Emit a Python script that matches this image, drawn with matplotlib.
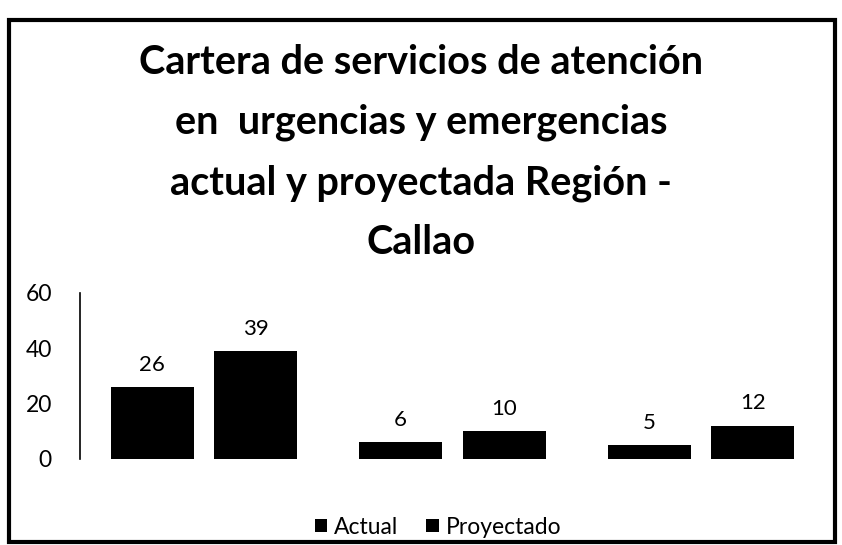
import matplotlib
matplotlib.use('Agg')
import matplotlib.pyplot as plt
import numpy as np
from matplotlib.patches import Rectangle

plt.rcParams['font.family'] = ['Lato', 'DejaVu Sans']

# Data
groups = ['Grupo 1', 'Grupo 2', 'Grupo 3']
actual = [26, 6, 5]
proyectado = [39, 10, 12]
y_ticks = [0, 20, 40, 60]
title = ('Cartera de servicios de atención\n'
         'en  urgencias y emergencias\n'
         'actual y proyectada Región -\n'
         'Callao')

fig = plt.figure(figsize=(8.42, 5.45), dpi=100)
ax = fig.add_axes([0.0947, 0.1578, 0.8854, 0.3046])

x = np.arange(len(groups))
w = 0.334
off = 0.209
b1 = ax.bar(x - off, actual, w, color='black', label='Actual')
b2 = ax.bar(x + off, proyectado, w, color='black', label='Proyectado')

for bars, vals in [(b1, actual), (b2, proyectado)]:
    for b, v in zip(bars, vals):
        ax.annotate(str(v), (b.get_x() + b.get_width() / 2, v),
                    xytext=(0, 9), textcoords='offset points',
                    ha='center', va='bottom', fontsize=16)

ax.set_xlim(-0.5, 2.5)
ax.set_ylim(0, 60)
ax.set_yticks(y_ticks)
ax.set_xticks([])
ax.tick_params(axis='y', length=0, pad=20, labelsize=16.5)
for s in ['top', 'right', 'bottom']:
    ax.spines[s].set_visible(False)
ax.spines['left'].set_linewidth(1.2)

fig.text(0.5, 0.72, title, ha='center', va='center', fontsize=28.5,
         fontweight='bold', linespacing=1.76)

fig.legend(handles=[b1, b2], labels=['Actual', 'Proyectado'],
           loc='center', bbox_to_anchor=(0.52, 0.033), ncol=2,
           frameon=False, fontsize=16.5, handlelength=0.55, handleheight=0.55,
           handletextpad=0.3, columnspacing=1.2)

# outer frame
fig.patches.append(Rectangle((0.011, 0.006), 0.981, 0.958, transform=fig.transFigure,
                             fill=False, edgecolor='black', linewidth=3))

fig.savefig('out.png', dpi=100)
